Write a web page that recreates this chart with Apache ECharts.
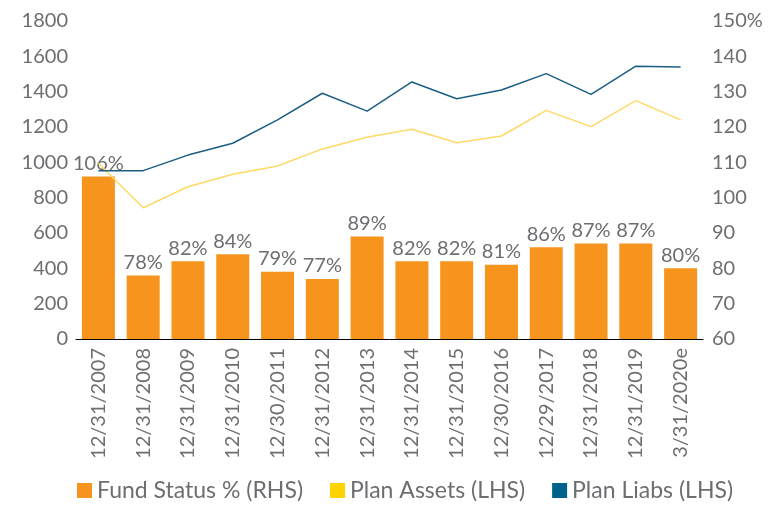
<!DOCTYPE html>
<html>
<head>
<meta charset="utf-8">
<script src="https://cdn.jsdelivr.net/npm/echarts@6/dist/echarts.min.js"></script>
<style>
  html, body { margin: 0; padding: 0; background: #fff; }
  #main { width: 780px; height: 519px; }
</style>
</head>
<body>
<div id="main"></div>
<script>
// category labels
const dates = ['12/31/2007', '12/31/2008', '12/31/2009', '12/31/2010', '12/30/2011', '12/31/2012', '12/31/2013',
  '12/31/2014', '12/31/2015', '12/30/2016', '12/29/2017', '12/31/2018', '12/31/2019', '3/31/2020e'];
// fund status in %, right axis
const fundStatus = [106, 78, 82, 84, 79, 77, 89, 82, 82, 81, 86, 87, 87, 80];
// plan assets / liabilities, left axis
const planAssets = [995, 743, 862, 932, 979, 1076, 1142, 1187, 1111, 1149, 1294, 1202, 1349, 1240];
const planLiabs = [953, 953, 1041, 1108, 1240, 1391, 1290, 1455, 1360, 1409, 1502, 1385, 1544, 1540];

const gray = '#6d6e71';
const font = 'Lato';

const chart = echarts.init(document.getElementById('main'));
const option = {
  animation: false,
  textStyle: { fontFamily: font },
  grid: { left: 76, right: 77, top: 21, bottom: 180, containLabel: false },
  legend: {
    left: 72,
    bottom: 12,
    itemWidth: 15,
    itemHeight: 15,
    itemGap: 27,
    textStyle: { fontSize: 23, color: gray, fontFamily: font },
    data: [
      { name: 'Fund Status % (RHS)', icon: 'rect', itemStyle: { color: '#f7941d' } },
      { name: 'Plan Assets (LHS)', icon: 'rect', itemStyle: { color: '#ffd200' } },
      { name: 'Plan Liabs (LHS)', icon: 'rect', itemStyle: { color: '#00628b' } }
    ]
  },
  xAxis: {
    type: 'category',
    data: dates,
    axisLine: { lineStyle: { color: '#000', width: 1 } },
    axisTick: { show: false },
    axisLabel: { rotate: 90, interval: 0, fontSize: 20, color: gray, margin: 9, fontFamily: font }
  },
  yAxis: [
    {
      type: 'value', min: 0, max: 1800, interval: 200,
      splitLine: { show: false },
      axisLine: { show: false },
      axisLabel: {
        fontSize: 20, color: gray, margin: 8, fontFamily: font,
        formatter: function (v) { return String(v); }
      }
    },
    {
      type: 'value', min: 60, max: 150, interval: 10,
      splitLine: { show: false },
      axisLine: { show: false },
      axisLabel: {
        fontSize: 20, color: gray, margin: 9, fontFamily: font,
        formatter: function (v) { return v === 150 ? v + '%' : String(v); }
      }
    }
  ],
  series: [
    {
      name: 'Fund Status % (RHS)',
      type: 'bar',
      yAxisIndex: 1,
      data: fundStatus,
      barWidth: 33,
      itemStyle: { color: '#f7941d' },
      label: { show: true, position: 'top', distance: 3, formatter: '{c}%', fontSize: 20, color: gray, fontFamily: font }
    },
    {
      name: 'Plan Assets (LHS)',
      type: 'line',
      data: planAssets,
      symbol: 'none',
      z: 3,
      lineStyle: { color: '#ffd966', width: 1.5 },
      itemStyle: { color: '#ffd200' }
    },
    {
      name: 'Plan Liabs (LHS)',
      type: 'line',
      data: planLiabs,
      symbol: 'none',
      z: 3,
      lineStyle: { color: '#1a5e85', width: 1.5 },
      itemStyle: { color: '#00628b' }
    }
  ]
};
chart.setOption(option);
</script>
</body>
</html>
